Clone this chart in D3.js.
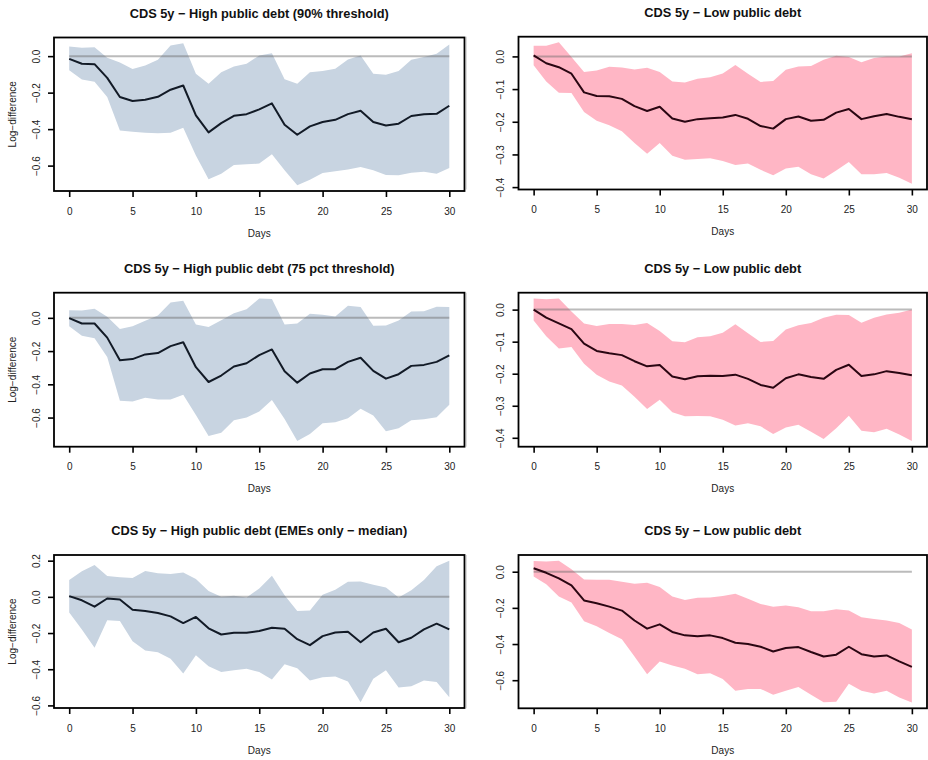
<!DOCTYPE html>
<html>
<head>
<meta charset="utf-8">
<script src="https://cdn.jsdelivr.net/npm/d3@7"></script>
<style>
  html, body { margin: 0; padding: 0; background: #fff; }
  svg { display: block; font-family: "Liberation Sans", Arial, Helvetica, sans-serif; }
</style>
</head>
<body>
<svg id="chart" width="928" height="760"></svg>
<script>
// Horizon (days after the shock)
const days = [0,1,2,3,4,5,6,7,8,9,10,11,12,13,14,15,16,17,18,19,20,21,22,23,24,25,26,27,28,29,30];
const xTicks = [0,5,10,15,20,25,30];

const titles = [
  "CDS 5y \u2212 High public debt (90% threshold)",
  "CDS 5y \u2212 Low public debt",
  "CDS 5y \u2212 High public debt (75 pct threshold)",
  "CDS 5y \u2212 Low public debt",
  "CDS 5y \u2212 High public debt (EMEs only \u2212 median)",
  "CDS 5y \u2212 Low public debt"
];

// High public debt, 90% threshold
const hi90Mean  = [-0.015,-0.042,-0.044,-0.119,-0.224,-0.246,-0.239,-0.223,-0.184,-0.161,-0.325,-0.418,-0.367,-0.327,-0.318,-0.292,-0.259,-0.376,-0.431,-0.385,-0.361,-0.349,-0.318,-0.299,-0.361,-0.380,-0.370,-0.328,-0.318,-0.316,-0.272];
const hi90Upper = [0.053,0.046,0.049,-0.009,-0.035,-0.071,-0.051,-0.020,0.058,0.071,-0.097,-0.151,-0.088,-0.057,-0.042,0.004,0.016,-0.126,-0.151,-0.088,-0.082,-0.069,-0.018,0.004,-0.097,-0.102,-0.082,-0.020,-0.005,0.013,0.064];
const hi90Lower = [-0.078,-0.128,-0.141,-0.224,-0.407,-0.414,-0.420,-0.422,-0.420,-0.392,-0.544,-0.675,-0.644,-0.597,-0.593,-0.589,-0.538,-0.626,-0.708,-0.677,-0.641,-0.631,-0.622,-0.608,-0.626,-0.651,-0.653,-0.639,-0.633,-0.644,-0.613];

// Low public debt (first comparison)
const lo90Mean  = [0.003,-0.021,-0.033,-0.053,-0.110,-0.121,-0.122,-0.130,-0.152,-0.167,-0.154,-0.190,-0.200,-0.192,-0.189,-0.187,-0.179,-0.191,-0.213,-0.221,-0.192,-0.184,-0.197,-0.194,-0.172,-0.161,-0.192,-0.183,-0.176,-0.185,-0.192];
const lo90Upper = [0.033,0.033,0.043,-0.002,-0.048,-0.043,-0.032,-0.034,-0.040,-0.035,-0.048,-0.077,-0.080,-0.068,-0.064,-0.052,-0.026,-0.053,-0.078,-0.075,-0.041,-0.031,-0.029,-0.010,0.002,-0.002,-0.018,-0.005,0.000,0.000,0.010];
const lo90Lower = [-0.027,-0.077,-0.111,-0.112,-0.170,-0.197,-0.211,-0.229,-0.265,-0.298,-0.265,-0.304,-0.316,-0.314,-0.312,-0.320,-0.332,-0.328,-0.347,-0.364,-0.343,-0.338,-0.361,-0.374,-0.349,-0.323,-0.361,-0.361,-0.357,-0.371,-0.390];

// High public debt, 75th percentile threshold
const hi75Mean  = [-0.002,-0.034,-0.034,-0.119,-0.255,-0.248,-0.220,-0.212,-0.170,-0.147,-0.297,-0.386,-0.347,-0.293,-0.273,-0.224,-0.190,-0.321,-0.390,-0.335,-0.309,-0.309,-0.265,-0.240,-0.319,-0.366,-0.339,-0.289,-0.283,-0.265,-0.226];
const hi75Upper = [0.046,0.044,0.055,0.006,-0.067,-0.051,-0.018,0.014,0.093,0.103,-0.040,-0.055,-0.014,0.028,0.051,0.117,0.113,-0.040,-0.034,0.024,0.018,0.008,0.073,0.065,-0.048,-0.046,-0.016,0.038,0.040,0.067,0.065];
const hi75Lower = [-0.051,-0.107,-0.123,-0.236,-0.499,-0.503,-0.481,-0.491,-0.491,-0.463,-0.584,-0.711,-0.691,-0.616,-0.600,-0.564,-0.495,-0.608,-0.741,-0.699,-0.634,-0.628,-0.604,-0.547,-0.588,-0.683,-0.665,-0.616,-0.610,-0.598,-0.523];

// Low public debt (second comparison)
const lo75Mean  = [0.000,-0.025,-0.043,-0.061,-0.106,-0.129,-0.136,-0.142,-0.161,-0.177,-0.173,-0.209,-0.217,-0.208,-0.206,-0.207,-0.203,-0.216,-0.235,-0.244,-0.214,-0.202,-0.210,-0.216,-0.188,-0.172,-0.207,-0.202,-0.192,-0.198,-0.205];
const lo75Upper = [0.035,0.032,0.035,-0.006,-0.043,-0.051,-0.045,-0.045,-0.048,-0.042,-0.067,-0.099,-0.102,-0.086,-0.083,-0.072,-0.046,-0.074,-0.101,-0.098,-0.062,-0.049,-0.042,-0.025,-0.016,-0.017,-0.041,-0.025,-0.015,-0.010,0.000];
const lo75Lower = [-0.034,-0.083,-0.121,-0.117,-0.169,-0.203,-0.224,-0.237,-0.272,-0.310,-0.281,-0.320,-0.333,-0.332,-0.333,-0.344,-0.362,-0.355,-0.364,-0.388,-0.368,-0.359,-0.381,-0.404,-0.370,-0.331,-0.378,-0.383,-0.372,-0.390,-0.410];

// High public debt, emerging market economies only (median)
const hiEmeMean  = [0.004,-0.019,-0.054,-0.009,-0.015,-0.071,-0.078,-0.089,-0.108,-0.145,-0.111,-0.174,-0.208,-0.199,-0.199,-0.189,-0.171,-0.176,-0.234,-0.267,-0.217,-0.197,-0.193,-0.251,-0.197,-0.176,-0.251,-0.226,-0.180,-0.148,-0.180];
const hiEmeUpper = [0.093,0.141,0.176,0.115,0.108,0.104,0.143,0.130,0.126,0.134,0.098,0.033,0.000,0.006,-0.004,0.046,0.117,0.009,-0.078,-0.076,0.011,0.039,0.084,0.085,0.067,0.052,-0.004,0.037,0.093,0.169,0.200];
const hiEmeLower = [-0.087,-0.180,-0.282,-0.130,-0.134,-0.245,-0.297,-0.306,-0.342,-0.423,-0.323,-0.384,-0.416,-0.405,-0.397,-0.416,-0.457,-0.373,-0.394,-0.462,-0.444,-0.440,-0.468,-0.583,-0.453,-0.405,-0.501,-0.494,-0.462,-0.471,-0.555];

// Low public debt (third comparison)
const loEmeMean  = [0.019,-0.006,-0.037,-0.076,-0.159,-0.174,-0.193,-0.215,-0.270,-0.315,-0.291,-0.333,-0.352,-0.357,-0.352,-0.367,-0.393,-0.400,-0.415,-0.441,-0.422,-0.417,-0.444,-0.469,-0.459,-0.415,-0.456,-0.469,-0.463,-0.496,-0.526];
const loEmeUpper = [0.059,0.056,0.061,0.013,-0.043,-0.044,-0.044,-0.056,-0.067,-0.061,-0.085,-0.137,-0.156,-0.144,-0.143,-0.135,-0.122,-0.150,-0.178,-0.194,-0.187,-0.196,-0.219,-0.219,-0.207,-0.215,-0.252,-0.261,-0.270,-0.283,-0.319];
const loEmeLower = [-0.026,-0.070,-0.137,-0.170,-0.274,-0.302,-0.339,-0.374,-0.469,-0.567,-0.496,-0.519,-0.537,-0.567,-0.561,-0.593,-0.659,-0.648,-0.648,-0.681,-0.659,-0.637,-0.681,-0.722,-0.719,-0.619,-0.659,-0.674,-0.659,-0.696,-0.724];

// y-axis tick labels for each panel
const yTicksHi90 = [0.0,-0.2,-0.4,-0.6];
const yTicksLo90 = [0.0,-0.1,-0.2,-0.3,-0.4];
const yTicksHi75 = [0.0,-0.2,-0.4,-0.6];
const yTicksLo75 = [0.0,-0.1,-0.2,-0.3,-0.4];
const yTicksHiEme = [0.2,0.0,-0.2,-0.4,-0.6];
const yTicksLoEme = [0.0,-0.2,-0.4,-0.6];

const xLabel = "Days";
const yLabel = "Log\u2212difference";

// ---- layout -------------------------------------------------------------
const leftCol  = [54, 464.5];
const rightCol = [518.5, 927];
const rowsLeft  = [[37.5, 191], [292.7, 446.7], [555, 708]];
const rowsRight = [[36.7, 189.5], [292.7, 446.7], [555, 708.3]];

const highFill = "#c8d4e1";
const lowFill  = "#ffb6c5";

const panels = [
  {title: titles[0], mean: hi90Mean,  up: hi90Upper,  lo: hi90Lower,  ticks: yTicksHi90,  col: leftCol,  row: rowsLeft[0],  fill: highFill, line: "#121a26", ylab: true},
  {title: titles[1], mean: lo90Mean,  up: lo90Upper,  lo: lo90Lower,  ticks: yTicksLo90,  col: rightCol, row: rowsRight[0], fill: lowFill,  line: "#2a0612", ylab: false},
  {title: titles[2], mean: hi75Mean,  up: hi75Upper,  lo: hi75Lower,  ticks: yTicksHi75,  col: leftCol,  row: rowsLeft[1],  fill: highFill, line: "#121a26", ylab: true},
  {title: titles[3], mean: lo75Mean,  up: lo75Upper,  lo: lo75Lower,  ticks: yTicksLo75,  col: rightCol, row: rowsRight[1], fill: lowFill,  line: "#2a0612", ylab: false},
  {title: titles[4], mean: hiEmeMean, up: hiEmeUpper, lo: hiEmeLower, ticks: yTicksHiEme, col: leftCol,  row: rowsLeft[2],  fill: highFill, line: "#121a26", ylab: true},
  {title: titles[5], mean: loEmeMean, up: loEmeUpper, lo: loEmeLower, ticks: yTicksLoEme, col: rightCol, row: rowsRight[2], fill: lowFill,  line: "#2a0612", ylab: false}
];

const svg = d3.select("#chart");
const fmt = d3.format(".1f");

// thin divider on the left edge of the right-hand column
rowsRight.forEach(r => {
  svg.append("line")
    .attr("x1", 466.5).attr("x2", 466.5)
    .attr("y1", r[0]).attr("y2", r[1])
    .attr("stroke", "#dcdcdc").attr("stroke-width", 1);
});

panels.forEach(p => {
  const [x0, x1] = p.col;
  const [y0, y1] = p.row;

  // R-style axis extension: 4% beyond the data range
  const xmin = d3.min(days), xmax = d3.max(days);
  const xpad = (xmax - xmin) * 0.04;
  const x = d3.scaleLinear().domain([xmin - xpad, xmax + xpad]).range([x0, x1]);

  const ymin = d3.min(p.lo), ymax = d3.max(p.up);
  const ypad = (ymax - ymin) * 0.04;
  const y = d3.scaleLinear().domain([ymin - ypad, ymax + ypad]).range([y1, y0]);

  const rows = days.map((d, i) => ({d, m: p.mean[i], u: p.up[i], l: p.lo[i]}));

  const g = svg.append("g");

  // confidence band
  g.append("path")
    .datum(rows)
    .attr("d", d3.area().x(r => x(r.d)).y0(r => y(r.l)).y1(r => y(r.u)))
    .attr("fill", p.fill)
    .attr("stroke", "none");

  // zero reference line
  g.append("path")
    .datum([xmin, xmax])
    .attr("d", d3.line().x(v => x(v)).y(() => y(0)))
    .attr("stroke", "rgb(105,105,105)")
    .attr("stroke-opacity", 0.45)
    .attr("stroke-width", 2)
    .attr("fill", "none");

  // point estimate
  g.append("path")
    .datum(rows)
    .attr("d", d3.line().x(r => x(r.d)).y(r => y(r.m)))
    .attr("stroke", p.line)
    .attr("stroke-width", 2)
    .attr("stroke-linejoin", "round")
    .attr("fill", "none");

  // plot frame
  g.append("rect")
    .attr("x", x0).attr("y", y0)
    .attr("width", x1 - x0).attr("height", y1 - y0)
    .attr("fill", "none").attr("stroke", "#000").attr("stroke-width", 1.8);

  // x axis
  const ax = g.append("g")
    .attr("transform", `translate(0,${y1})`)
    .call(d3.axisBottom(x).tickValues(xTicks).tickSize(6).tickFormat(d3.format("d")));
  ax.select(".domain").remove();
  ax.selectAll(".tick line").attr("stroke", "#000").attr("stroke-width", 1.6);
  ax.selectAll(".tick text")
    .attr("y", 23.5).attr("dy", null)
    .attr("fill", "#222")
    .style("font-size", "10px")
    .style("font-family", "'Liberation Sans', Arial, sans-serif");

  // y axis with rotated labels
  const ay = g.append("g")
    .attr("transform", `translate(${x0},0)`)
    .call(d3.axisLeft(y).tickValues(p.ticks).tickSize(6).tickFormat(fmt));
  ay.select(".domain").remove();
  ay.selectAll(".tick line").attr("stroke", "#000").attr("stroke-width", 1.6);
  ay.selectAll(".tick text")
    .attr("x", 0).attr("dy", null).attr("y", -14.5)
    .attr("transform", "rotate(-90)")
    .attr("text-anchor", "middle")
    .attr("fill", "#222")
    .style("font-size", "10px")
    .style("font-family", "'Liberation Sans', Arial, sans-serif");

  // title
  g.append("text")
    .attr("x", (x0 + x1) / 2).attr("y", y0 - 20)
    .attr("text-anchor", "middle")
    .style("font-size", "12.8px").style("font-weight", "bold")
    .attr("fill", "#111")
    .text(p.title);

  // x label
  g.append("text")
    .attr("x", (x0 + x1) / 2).attr("y", y1 + 45.5)
    .attr("text-anchor", "middle")
    .style("font-size", "10px")
    .attr("fill", "#222")
    .text(xLabel);

  // y label
  if (p.ylab) {
    g.append("text")
      .attr("transform", `translate(15.5,${(y0 + y1) / 2}) rotate(-90)`)
      .attr("text-anchor", "middle")
      .style("font-size", "10px")
      .attr("fill", "#222")
      .text(yLabel);
  }
});
</script>
</body>
</html>
